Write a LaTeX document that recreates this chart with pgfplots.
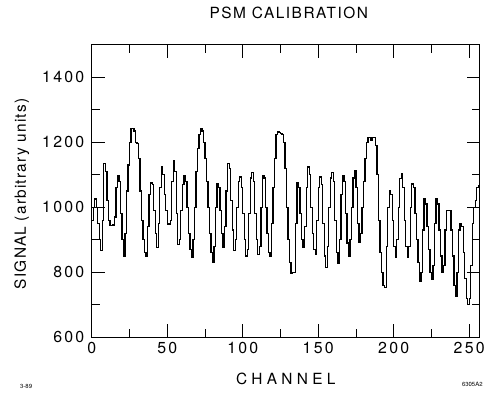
\documentclass[border=0pt]{standalone}
\usepackage{pgfplots}
\pgfplotsset{compat=1.18}
\usepackage{fontspec}
\setmainfont{TeX Gyre Heros}
\usetikzlibrary{calc}
\begin{document}
\begin{tikzpicture}
\begin{axis}[
  name=ax,
  scale only axis,
  width=389bp, height=293bp,
  xmin=0, xmax=257, ymin=600, ymax=1500,
  xtick={0,50,...,250}, minor xtick={25,75,...,250},
  ytick={600,800,...,1400}, minor ytick={700,900,...,1500},
  tick align=inside,
  xtick pos=both, ytick pos=both,
  major tick length=13bp, minor tick length=8bp,
  every tick/.style={black, line width=0.8bp},
  axis line style={line width=1bp},
  /pgf/number format/assume math mode=true,
  /pgf/number format/1000 sep={},
  tick label style={font=\fontsize{16}{18}\selectfont\addfontfeature{LetterSpace=14}},
  xticklabel style={yshift=-2bp},
  yticklabel style={xshift=-4bp},
  title={\addfontfeature{LetterSpace=10}PSM CALIBRATION},
  title style={font=\fontsize{15.5}{17}\selectfont, at={(axis description cs:0.5,1)}, anchor=base, yshift=20bp, xshift=3bp, inner sep=0pt},
  xlabel={\addfontfeature{LetterSpace=28}CHANNEL},
  xlabel style={font=\fontsize{15.5}{18}\selectfont, at={(axis description cs:0.5,0)}, anchor=base, yshift=-47bp, inner sep=0pt},
  ylabel={SIGNAL (arbitrary units)},
  ylabel style={font=\fontsize{15.5}{18}\selectfont\addfontfeature{LetterSpace=8}, at={(axis description cs:-0.170,0.49)}, anchor=base, inner sep=0pt},
]
\addplot[const plot, black, line width=1.3bp] coordinates {
(0,960) (1,1000) (2,1025) (3,1000) (4,950) (5,900) (6,866) (7,960) (8,1134) (9,1110)
(10,1020) (11,960) (12,943) (13,943) (14,945) (15,970) (16,1060) (17,1097) (18,1080) (19,980)
(20,900) (21,850) (22,920) (23,1050) (24,1130) (25,1200) (26,1242) (27,1242) (28,1235) (29,1200)
(30,1196) (31,1150) (32,1050) (33,960) (34,900) (35,860) (36,850) (37,940) (38,1040) (39,1075)
(40,1070) (41,990) (42,920) (43,877) (44,950) (45,1060) (46,1124) (47,1100) (48,1040) (49,990)
(50,948) (51,948) (52,960) (53,1080) (54,1144) (55,1110) (56,980) (57,886) (58,900) (59,990)
(60,1070) (61,1098) (62,1080) (63,1000) (64,920) (65,870) (66,845) (67,900) (68,1000) (69,1110)
(70,1180) (71,1225) (72,1242) (73,1235) (74,1200) (75,1150) (76,1080) (77,1000) (78,920) (79,860)
(80,830) (81,880) (82,1000) (83,1072) (84,1060) (85,990) (86,920) (87,877) (88,940) (89,1050)
(90,1134) (91,1120) (92,1020) (93,930) (94,866) (95,900) (96,1000) (97,1080) (98,1093) (99,1060)
(100,980) (101,900) (102,850) (103,870) (104,980) (105,1090) (106,1108) (107,1080) (108,980) (109,900)
(110,855) (111,880) (112,1000) (113,1098) (114,1090) (115,1000) (116,920) (117,860) (118,850) (119,950)
(120,1060) (121,1150) (122,1225) (123,1233) (124,1230) (125,1228) (126,1225) (127,1200) (128,1120) (129,1000)
(130,900) (131,830) (132,795) (133,800) (134,800) (135,950) (136,1077) (137,1060) (138,980) (139,900)
(140,876) (141,940) (142,1060) (143,1124) (144,1100) (145,1000) (146,920) (147,870) (148,855) (149,960)
(150,1060) (151,1093) (152,1070) (153,950) (154,850) (155,814) (156,880) (157,1000) (158,1090) (159,1108)
(160,1080) (161,960) (162,860) (163,828) (164,900) (165,1040) (166,1098) (167,1080) (168,980) (169,890)
(170,850) (171,900) (172,1000) (173,1090) (174,1113) (175,1060) (176,950) (177,892) (178,920) (179,1000)
(180,1080) (181,1150) (182,1200) (183,1215) (184,1215) (185,1205) (186,1215) (187,1215) (188,1190) (189,1100)
(190,960) (191,860) (192,800) (193,760) (194,752) (195,880) (196,1000) (197,1051) (198,1040) (199,960)
(200,880) (201,845) (202,900) (203,1000) (204,1088) (205,1103) (206,1060) (207,960) (208,880) (209,845)
(210,880) (211,1000) (212,1072) (213,1060) (214,980) (215,900) (216,830) (217,773) (218,800) (219,930)
(220,1026) (221,1010) (222,940) (223,870) (224,800) (225,778) (226,820) (227,950) (228,1026) (229,1010)
(230,930) (231,850) (232,799) (233,820) (234,930) (235,990) (236,990) (237,990) (238,930) (239,850)
(240,760) (241,726) (242,800) (243,930) (244,948) (245,940) (246,860) (247,780) (248,720) (249,700)
(250,720) (251,820) (252,950) (253,1000) (254,1020) (255,1060) (256,1066) (257,1066)
};
\end{axis}
\node[anchor=base west, font=\fontsize{6}{7}\selectfont, inner sep=0pt] at ($(ax.south west)+(-72bp,-52bp)$) {3-89};
\node[anchor=base east, font=\fontsize{6}{7}\selectfont, inner sep=0pt] at ($(ax.south east)+(3bp,-50bp)$) {6305A2};
\path[use as bounding box] ($(ax.south west)+(-92bp,-58bp)$) rectangle ($(ax.north east)+(7bp,45bp)$);
\end{tikzpicture}
\end{document}
